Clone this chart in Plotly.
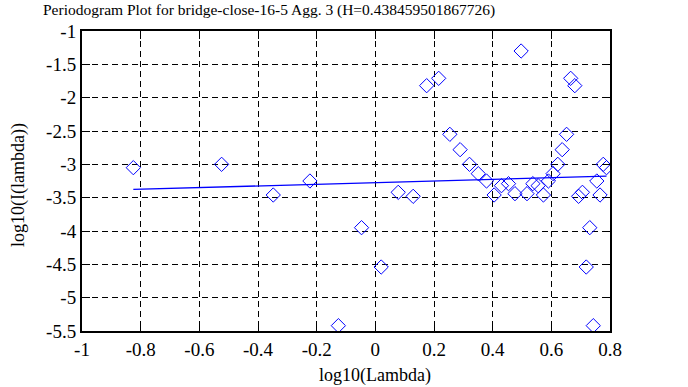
import plotly.graph_objects as go

# log10 of frequencies
log_lambda = [-0.825, -0.524, -0.348, -0.223, -0.126, -0.047, 0.020, 0.078, 0.129, 0.175,
              0.216, 0.254, 0.289, 0.321, 0.351, 0.379, 0.405, 0.430, 0.454, 0.476,
              0.497, 0.517, 0.537, 0.555, 0.573, 0.590, 0.606, 0.622, 0.637, 0.652,
              0.666, 0.680, 0.693, 0.706, 0.719, 0.731, 0.743, 0.755, 0.766, 0.777, 0.788]
# log10 periodogram values
log_I = [-3.05, -3.00, -3.46, -3.25, -5.42, -3.95, -4.54, -3.42, -3.48, -1.82,
         -1.71, -2.55, -2.78, -3.00, -3.14, -3.25, -3.46, -3.32, -3.29, -3.44,
         -1.30, -3.44, -3.29, -3.32, -3.46, -3.25, -3.14, -3.00, -2.78, -2.55,
         -1.71, -1.82, -3.48, -3.42, -4.54, -3.95, -5.42, -3.25, -3.46, -3.00, -3.05]

H = 0.438459501867726
fit_slope = 1 - 2 * H
fit_intercept = -3.275

x_ticks = [-1, -0.8, -0.6, -0.4, -0.2, 0, 0.2, 0.4, 0.6, 0.8]
x_ticklabels = ["-1", "-0.8", "-0.6", "-0.4", "-0.2", "0", "0.2", "0.4", "0.6", "0.8"]
y_ticks = [-5.5, -5, -4.5, -4, -3.5, -3, -2.5, -2, -1.5, -1]
y_ticklabels = ["-5.5", "-5", "-4.5", "-4", "-3.5", "-3", "-2.5", "-2", "-1.5", "-1"]

title_text = "Periodogram Plot for bridge-close-16-5 Agg. 3 (H=0.438459501867726)"

FONT = "Times New Roman, Liberation Serif, DejaVu Serif, serif"

fit_x = [min(log_lambda), max(log_lambda)]
fit_y = [fit_intercept + fit_slope * v for v in fit_x]

fig = go.Figure()
fig.add_trace(go.Scatter(
    x=log_lambda, y=log_I, mode="markers",
    marker=dict(symbol="diamond-open", size=11, color="#0000ff", line=dict(width=1, color="#0000ff")),
    showlegend=False, hoverinfo="skip"))
fig.add_trace(go.Scatter(
    x=fit_x, y=fit_y, mode="lines",
    line=dict(color="#0000ff", width=1.3),
    showlegend=False, hoverinfo="skip"))

axis_common = dict(
    showline=True, linecolor="black", linewidth=2, mirror="ticks",
    ticks="inside", ticklen=8, tickwidth=1, tickcolor="black",
    showgrid=True, gridcolor="black", gridwidth=1, griddash="6px,4px",
    zeroline=False,
    tickfont=dict(family=FONT, size=19, color="black"),
)

fig.update_xaxes(range=[-1, 0.8], tickvals=x_ticks, ticktext=x_ticklabels, **axis_common)
fig.update_yaxes(range=[-5.5, -1], tickvals=y_ticks, ticktext=y_ticklabels, **axis_common)

L, R, T, B = 82, 78, 31, 56
W, Hh = 688, 387
fig.update_layout(
    width=W, height=Hh,
    margin=dict(l=L, r=R, t=T, b=B),
    paper_bgcolor="white", plot_bgcolor="white",
    font=dict(family=FONT, color="black"),
)

plot_w = W - L - R
plot_h = Hh - T - B
def px_to_paper_x(px):
    return (px - L) / plot_w
def py_to_paper_y(py):
    return (Hh - B - py) / plot_h

fig.add_annotation(text=title_text, x=px_to_paper_x(41), y=py_to_paper_y(10),
                   xref="paper", yref="paper", showarrow=False,
                   font=dict(family=FONT, size=15.5, color="black"),
                   xanchor="left", yanchor="middle")
fig.add_annotation(text="log10(Lambda)", x=px_to_paper_x(375), y=py_to_paper_y(375),
                   xref="paper", yref="paper", showarrow=False,
                   font=dict(family=FONT, size=18, color="black"),
                   xanchor="center", yanchor="middle")
fig.add_annotation(text="log10(I(lambda))", x=px_to_paper_x(18), y=py_to_paper_y(185),
                   xref="paper", yref="paper", showarrow=False, textangle=-90,
                   font=dict(family=FONT, size=18, color="black"),
                   xanchor="center", yanchor="middle")

fig.write_html("out.html", config={"displayModeBar": False},
               post_script="document.body.style.margin='0';document.body.style.overflow='hidden';")
